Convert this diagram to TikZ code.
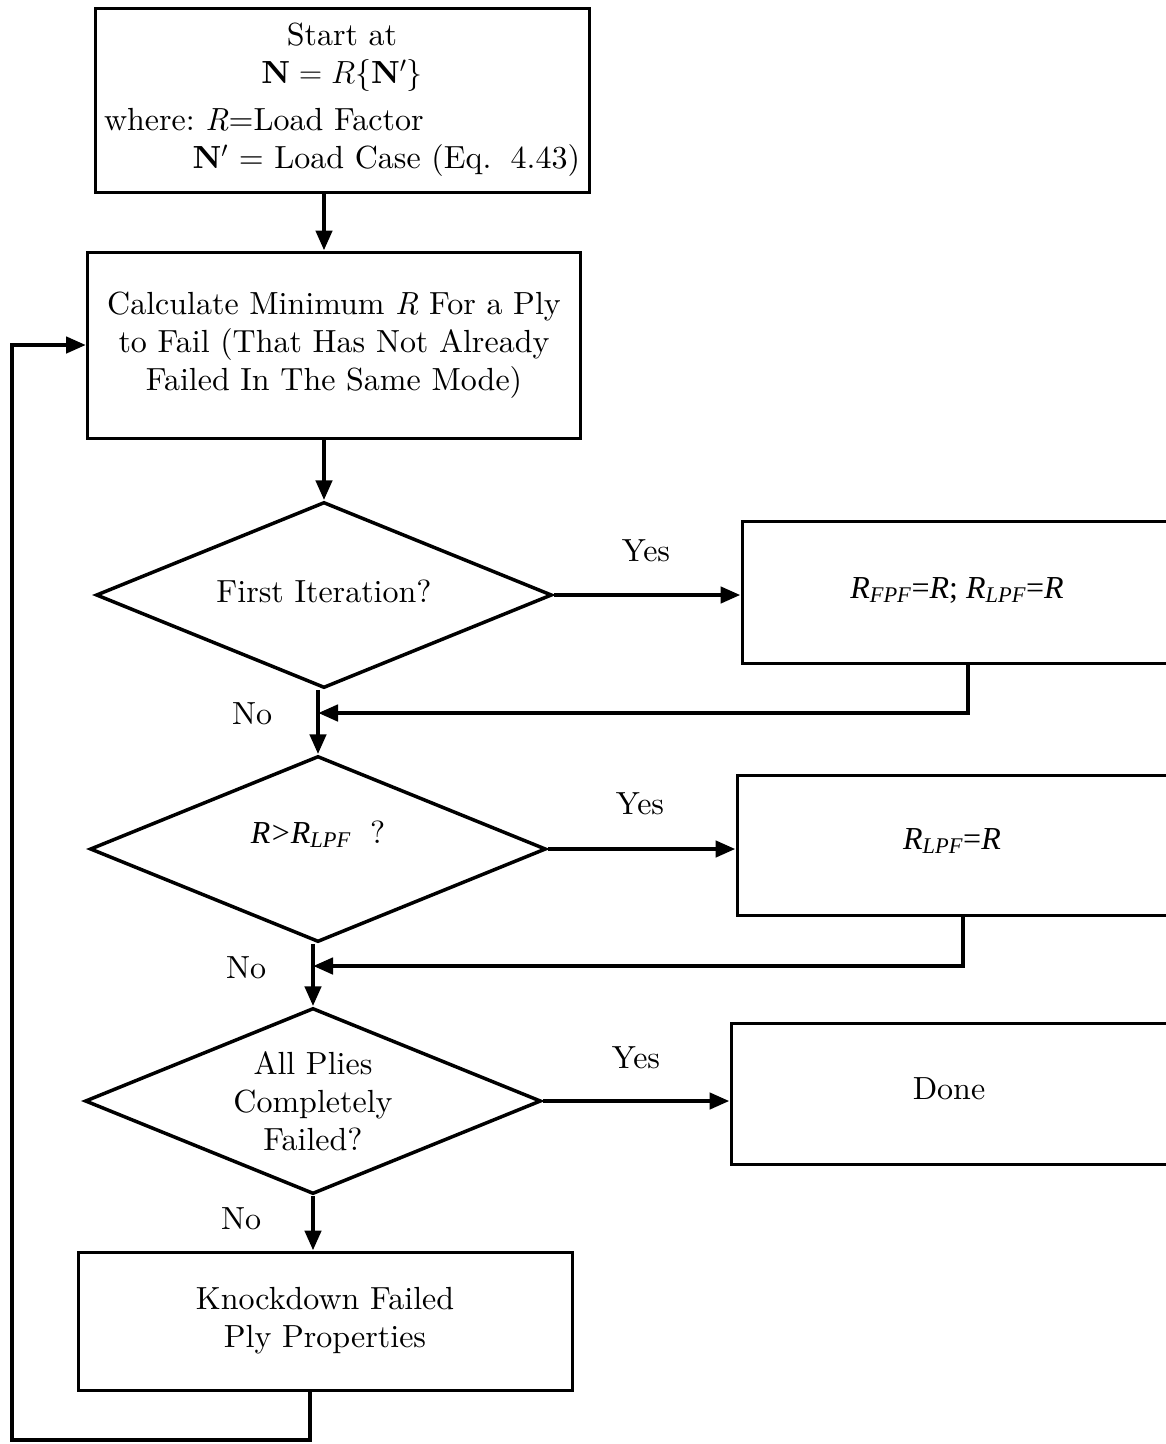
\RequirePackage{fix-cm}
\documentclass[tikz,border=0pt]{standalone}
\usepackage{fontspec}
\setmainfont{lmroman10-regular.otf}[ItalicFont=lmroman10-italic.otf,BoldFont=lmroman10-bold.otf]
\newfontfamily\tms{Liberation Serif}
\newcommand\Rs[1]{\textit{R}\textsubscript{\textit{#1}}}
\newcommand\lift[2]{\raisebox{#1}[0pt][0pt]{#2}}
\usetikzlibrary{shapes.geometric,arrows.meta}
\begin{document}
\begin{tikzpicture}[x=1pt,y=-1pt,
  every node/.style={font=\fontsize{32}{38}\selectfont},
  box/.style={draw,line width=3pt,rectangle,inner sep=0pt,align=center},
  dia/.style={draw,line width=3.5pt,diamond,shape aspect=2.45,inner sep=0pt,align=center,minimum width=456pt,minimum height=186pt},
  tm/.style={font=\tms\fontsize{32}{38}\selectfont},
  arr/.style={line width=4.5pt,-{Triangle[length=20pt,width=16pt]}},
  lbl/.style={inner sep=0pt}]
\useasboundingbox (0,0) rectangle (1166,1444);
\clip (0,0) rectangle (1166,1444);

\node[box,minimum width=494pt,minimum height=184pt,text width=476pt,align=left] (start) at (342,100)
  {\makebox[476pt][c]{Start at}\\
   \makebox[476pt][c]{$\mathbf{N}=R\{\mathbf{N}'\}$}\\[9pt]
   \makebox[476pt][l]{where:\ \textit{R}=Load Factor}\\
   \makebox[476pt][r]{$\mathbf{N}'$ = Load Case (Eq.\hspace{0.6em}4.43)}};

\node[box,minimum width=493pt,minimum height=186pt] (calc) at (334,345)
  {Calculate Minimum \textit{R} For a Ply\\to Fail (That Has Not Already\\Failed In The Same Mode)};

\node[dia] (d1) at (324,595) {\lift{-7pt}{First Iteration?}};
\node[box,tm,minimum width=430pt,minimum height=142pt] (b3) at (957,592)
  {\lift{-6pt}{\Rs{FPF}=\textit{R}; \Rs{LPF}=\textit{R}}};

\node[dia] (d2) at (318,849) {\lift{6pt}{{\tms\Rs{}\kern1pt>\kern1pt\Rs{LPF}}\hspace{0.6em}?}};
\node[box,tm,minimum width=430pt,minimum height=140pt] (b4) at (952,845)
  {\lift{-4pt}{\Rs{LPF}=\textit{R}}};

\node[dia] (d3) at (313,1101) {All Plies\\Completely\\Failed?};
\node[box,minimum width=436pt,minimum height=141pt] (b5) at (949,1094) {\lift{-5pt}{Done}};

\node[box,minimum width=494pt,minimum height=138pt] (b6) at (325,1321)
  {Knockdown Failed\\Ply Properties};

% connectors
\draw[arr] (start.south -| d1.north) -- (calc.north -| d1.north);
\draw[arr] (calc.south -| d1.north) -- (d1.north);

\draw[arr] (d1.east) -- (d1.east -| b3.west);
\node[lbl] (y1) at (646,551) {Yes};
\coordinate (m1) at (d2.north |- 0,713);
\draw[arr] ([xshift=11pt]b3.south) |- (m1);
\draw[arr] (d1.south -| d2.north) -- (d2.north);
\node[lbl] (n1) at (252,714) {No};

\draw[arr] (d2.east) -- (d2.east -| b4.west);
\node[lbl] (y2) at (640,804) {Yes};
\coordinate (m2) at (d3.north |- 0,966);
\draw[arr] ([xshift=11pt]b4.south) |- (m2);
\draw[arr] (d2.south -| d3.north) -- (d3.north);
\node[lbl] (n2) at (246,968) {No};

\draw[arr] (d3.east) -- (d3.east -| b5.west);
\node[lbl] (y3) at (636,1058) {Yes};
\draw[arr] (d3.south) -- (b6.north -| d3.south);
\node[lbl] (n3) at (241,1219) {No};

\coordinate (c1) at (12,1440);
\draw[arr] ([xshift=-15pt]b6.south) |- (c1) |- (calc.west);
\end{tikzpicture}
\end{document}
